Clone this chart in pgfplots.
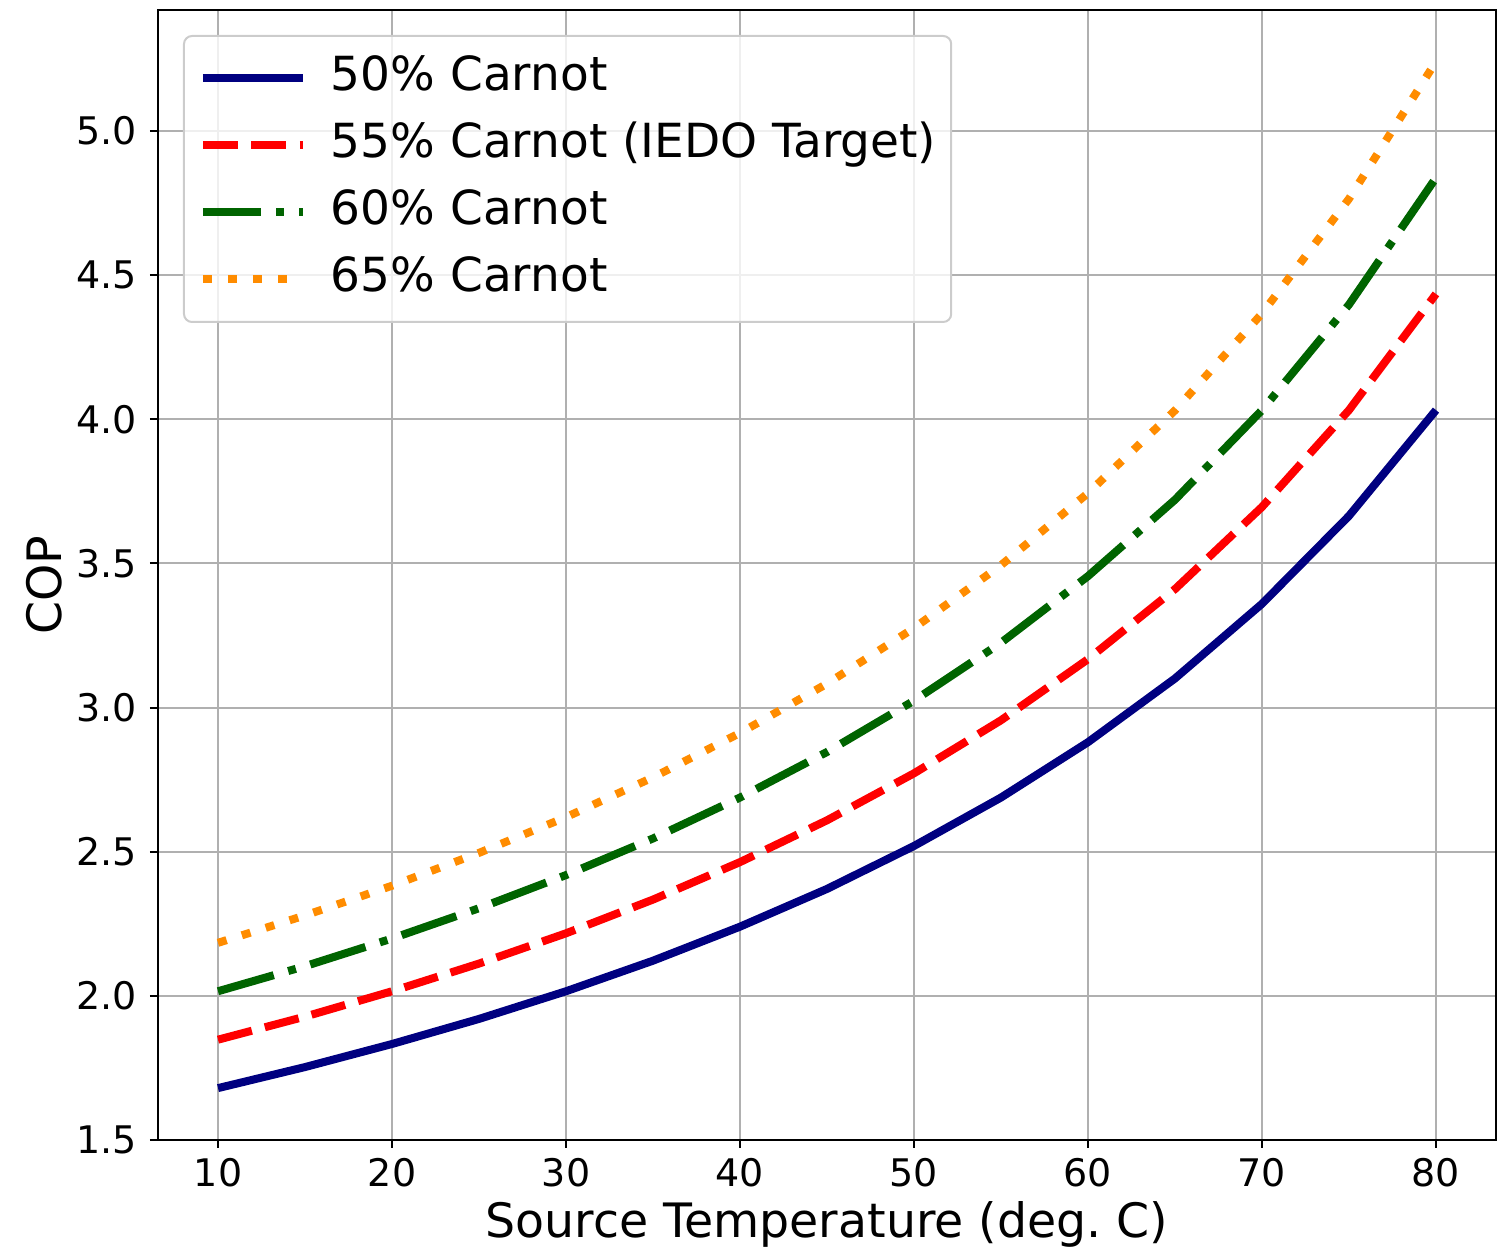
\documentclass[border=0pt]{standalone}
\usepackage{fontspec}
\setmainfont{DejaVu Sans}
\usepackage{pgfplots}
\pgfplotsset{compat=1.18}
\definecolor{mplnavy}{RGB}{0,0,128}
\definecolor{mplred}{RGB}{255,0,0}
\definecolor{mplgreen}{RGB}{0,100,0}
\definecolor{mplorange}{RGB}{255,140,0}
\definecolor{gridgray}{RGB}{176,176,176}
\definecolor{legedge}{RGB}{204,204,204}
\begin{document}
\begin{tikzpicture}
\path[use as bounding box] (-79pt,-54pt) rectangle (674pt,570pt);
\begin{axis}[
  scale only axis,
  width=669pt, height=565pt,
  xmin=6.55, xmax=83.45,
  ymin=1.5, ymax=5.42,
  xtick={10,20,...,80},
  ytick={1.5,2.0,2.5,3.0,3.5,4.0,4.5,5.0},
  xtick pos=bottom, ytick pos=left,
  yticklabel style={/pgf/number format/fixed, /pgf/number format/fixed zerofill, /pgf/number format/precision=1},
  /pgf/number format/assume math mode=true,
  tick label style={font=\fontsize{19}{23}\selectfont},
  xticklabel style={anchor=north, inner sep=0pt, yshift=-5pt},
  yticklabel style={anchor=east, inner sep=0pt, xshift=-6.5pt},
  tick align=outside,
  major tick length=4pt,
  tick style={line width=1pt, black},
  axis line style={line width=1.2pt},
  grid=major,
  major grid style={line width=1pt, color=gridgray},
  xlabel={Source Temperature (deg.\ C)},
  ylabel={COP},
  label style={font=\fontsize{23.7}{28}\selectfont},
  xlabel style={at={(axis description cs:0.5,0)}, anchor=base, inner sep=0pt, yshift=-49pt},
  ylabel style={at={([xshift=-57pt,yshift=-5pt]axis description cs:0,0.5)}, anchor=center, inner sep=0pt, rotate=0},
  legend cell align=left,
  legend image code/.code={\draw[#1] (0pt,0pt) -- (50pt,0pt);},
  legend style={
    at={(axis description cs:0,1)}, anchor=north west,
    xshift=12.5pt, yshift=-12.5pt,
    font=\fontsize{23.5}{28}\selectfont,
    fill=white, fill opacity=0.8, text opacity=1, draw opacity=1,
    draw=legedge, line width=1pt, rounded corners=4pt,
    inner xsep=7.5pt, inner ysep=10pt,
    row sep=11pt, column sep=12pt,
    nodes={inner sep=0pt, text height=17.5pt, text depth=5pt},
  },
]
\addplot[mplnavy, line width=4pt, line join=round] coordinates {
(10,1.680) (15,1.753) (20,1.833) (25,1.920) (30,2.016) (35,2.122) (40,2.240) (45,2.371)
(50,2.520) (55,2.688) (60,2.880) (65,3.101) (70,3.360) (75,3.665) (80,4.032)};
\addlegendentry{50\% Carnot}
\addplot[mplred, line width=4pt, dash pattern=on 17.5pt off 6.7pt] coordinates {
(10,1.848) (15,1.928) (20,2.016) (25,2.112) (30,2.217) (35,2.334) (40,2.464) (45,2.609)
(50,2.772) (55,2.956) (60,3.168) (65,3.411) (70,3.696) (75,4.032) (80,4.435)};
\addlegendentry{55\% Carnot (IEDO Target)}
\addplot[mplgreen, line width=4pt, dash pattern=on 29pt off 7.5pt on 4pt off 7.5pt] coordinates {
(10,2.016) (15,2.103) (20,2.199) (25,2.304) (30,2.419) (35,2.546) (40,2.688) (45,2.846)
(50,3.024) (55,3.225) (60,3.456) (65,3.721) (70,4.032) (75,4.398) (80,4.838)};
\addlegendentry{60\% Carnot}
\addplot[mplorange, line width=4pt, dash pattern=on 4.5pt off 8pt] coordinates {
(10,2.184) (15,2.279) (20,2.382) (25,2.496) (30,2.620) (35,2.758) (40,2.912) (45,3.083)
(50,3.276) (55,3.494) (60,3.744) (65,4.031) (70,4.367) (75,4.765) (80,5.241)};
\addlegendentry{65\% Carnot}
\end{axis}
\end{tikzpicture}
\end{document}
